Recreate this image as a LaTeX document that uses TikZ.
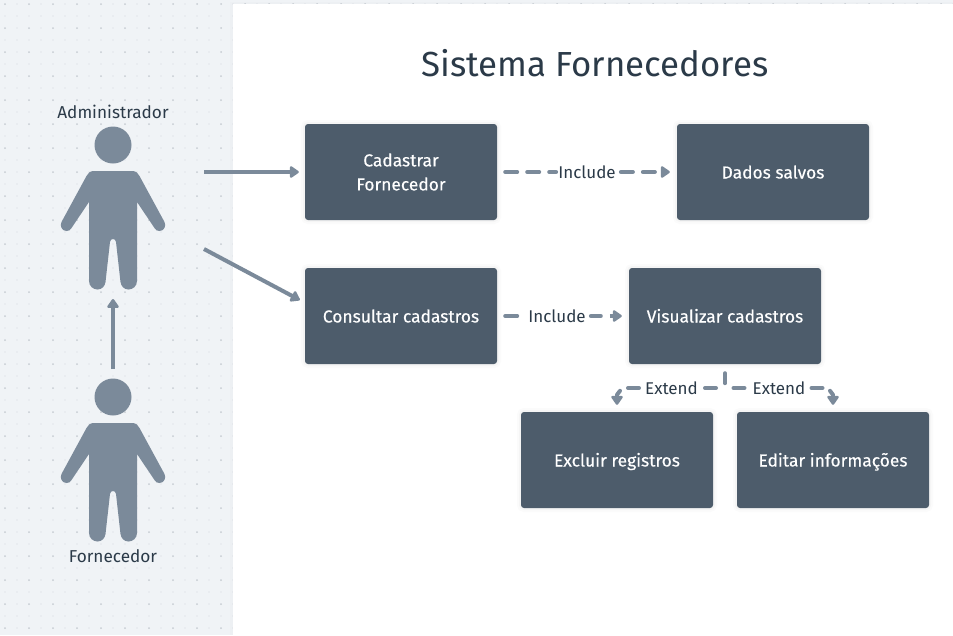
\documentclass[tikz,border=0pt]{standalone}
\usepackage{fontspec}
\setmainfont{Fira Sans}
\usetikzlibrary{arrows.meta}
\definecolor{panelbg}{HTML}{F0F3F6}
\definecolor{dotA}{HTML}{C6CCD2}
\definecolor{dotB}{HTML}{E2E6EA}
\definecolor{linec}{HTML}{7B8A9A}
\definecolor{boxc}{HTML}{4D5C6B}
\definecolor{inkc}{HTML}{2B3A48}
\newcommand{\oneline}[1]{\raisebox{0pt}[13pt][0pt]{#1}}
\tikzset{
  boxn/.style={fill=boxc,rounded corners=3pt,minimum width=192pt,minimum height=96pt,inner sep=0pt,
    text=white,align=center,font=\fontsize{17.4}{24}\selectfont\addfontfeature{FakeBold=0.3},
    preaction={draw=black,opacity=.015,line width=8pt},
    preaction={draw=black,opacity=.025,line width=4pt}},
  conn/.style={draw=linec,line width=4pt,line cap=round},
  dashc/.style={conn,dash pattern=on 12pt off 10pt},
  tip/.style={-{Triangle[width=13pt,length=10pt,round=false]}},
  lab/.style={fill=white,inner xsep=2pt,inner ysep=0pt,text=inkc,font=\fontsize{17}{20}\selectfont},
  actor/.style={text=inkc,font=\fontsize{17.2}{20}\selectfont,inner sep=0pt},
  person/.style={fill=linec},
}
\newcommand{\personshape}{%
  \fill[person] (113,145) circle (18.5);
  \fill[person] (94,171) -- (132,171) .. controls (136,171) and (138,173) .. (139.5,176)
    -- (164.5,222) .. controls (166.5,226) and (164,231) .. (159.5,231)
    .. controls (157,231) and (155.5,230) .. (154.5,228) -- (137,202) -- (137,281)
    .. controls (137,286) and (133,289.5) .. (128.5,289.5)
    .. controls (124,289.5) and (121,286) .. (120.5,282) -- (116,242)
    .. controls (115.5,238) and (110.5,238) .. (110,242) -- (105.5,282)
    .. controls (105,286) and (102,289.5) .. (97.5,289.5)
    .. controls (93,289.5) and (89,286) .. (89,281) -- (89,202) -- (71.5,228)
    .. controls (70.5,230) and (69,231) .. (66.5,231)
    .. controls (62,231) and (59.5,226) .. (61.5,222) -- (86.5,176)
    .. controls (88,173) and (90,171) .. (94,171) -- cycle;
}
\begin{document}
\begin{tikzpicture}[x=1pt,y=-1pt]
\useasboundingbox (0,0) rectangle (953,635);
% background with dots
\fill[panelbg] (0,0) rectangle (953,635);
\foreach \i in {0,...,79}{
  \foreach \j in {0,...,52}{
    \pgfmathtruncatemacro{\dk}{(mod(\i,2)==0)&&(mod(\j,2)==0)}
    \ifnum\dk=1
      \fill[dotA] ({5+12*\i},{4+12*\j}) circle (1);
    \else
      \fill[dotB] ({5+12*\i},{4+12*\j}) circle (.8);
    \fi
  }
}
% white panel
\fill[black,opacity=.012] (230,2) rectangle (953,635);
\fill[white] (233,4) rectangle (953,635);
% title
\node[text=inkc,font=\fontsize{34.8}{40}\selectfont,inner sep=0pt] (title) at (595,63) {Sistema Fornecedores};
% persons
\personshape
\begin{scope}[shift={(0,252)}]
\personshape
\end{scope}
\node[actor] (adm) at (113,112) {Administrador};
\node[actor] (forn) at (113,556) {Fornecedor};
% boxes
\node[boxn] (cad) at (401,172) {Cadastrar\\Fornecedor};
\node[boxn] (dad) at (773,172) {\oneline{Dados salvos}};
\node[boxn] (con) at (401,316) {\oneline{Consultar cadastros}};
\node[boxn] (vis) at (725,316) {\oneline{Visualizar cadastros}};
\node[boxn] (exc) at (617,460) {\oneline{Excluir registros}};
\node[boxn] (edi) at (833,460) {\oneline{Editar informações}};
% actor connectors
\coordinate (admR) at (204,172);
\coordinate (admS) at (204,249);
\coordinate (fornT) at (113,369);
\coordinate (admB) at (113,299);
\draw[conn,line cap=butt,tip] (admR) -- ([xshift=-6pt]cad.west);
\draw[conn,line cap=butt,tip] (admS) -- ([xshift=-5pt,yshift=16pt]con.west);
\draw[conn,line cap=butt,tip] (fornT) -- (admB);
% include 1
\node[lab] (inc1) at (587,172) {Include};
\draw[dashc] ([xshift=8pt]cad.east) -- (inc1.west);
\draw[dashc] ([xshift=3pt]inc1.east) -- ([xshift=-16pt]dad.west);
\draw[conn,line cap=butt,tip] ([xshift=-16pt]dad.west) -- ([xshift=-7pt]dad.west);
% include 2
\node[lab] (inc2) at (557,316) {Include};
\draw[dashc] ([xshift=8pt]con.east) -- ([xshift=20pt]con.east);
\draw[conn] ([xshift=3pt]inc2.east) -- ([xshift=-28pt]vis.west);
\draw[conn,line cap=butt,tip] ([xshift=-19pt]vis.west) -- ([xshift=-7pt]vis.west);
% extends
\node[lab,fill=none] (ext1) at (671.5,388) {Extend};
\node[lab,fill=none] (ext2) at (779,388) {Extend};
\draw[conn] ([yshift=-9pt]vis.south) -- ([yshift=-19pt]vis.south);
\draw[conn] (ext1.east) ++(5,0) -- ++(11,0);
\draw[conn] (ext2.west) ++(-6,0) -- ++(-11,0);
\draw[conn] (ext1.west) ++(-4,0) -- ++(-11,0);
\draw[conn] (ext2.east) ++(4,0) -- ++(11,0);
\draw[conn] ([xshift=3pt,yshift=21pt]exc.north) -- ([yshift=17pt]exc.north);
\draw[conn,line cap=butt,tip] ([yshift=18pt]exc.north) -- ([yshift=7pt]exc.north);
\draw[conn] ([xshift=-3pt,yshift=21pt]edi.north) -- ([yshift=17pt]edi.north);
\draw[conn,line cap=butt,tip] ([yshift=18pt]edi.north) -- ([yshift=7pt]edi.north);
\end{tikzpicture}
\end{document}
